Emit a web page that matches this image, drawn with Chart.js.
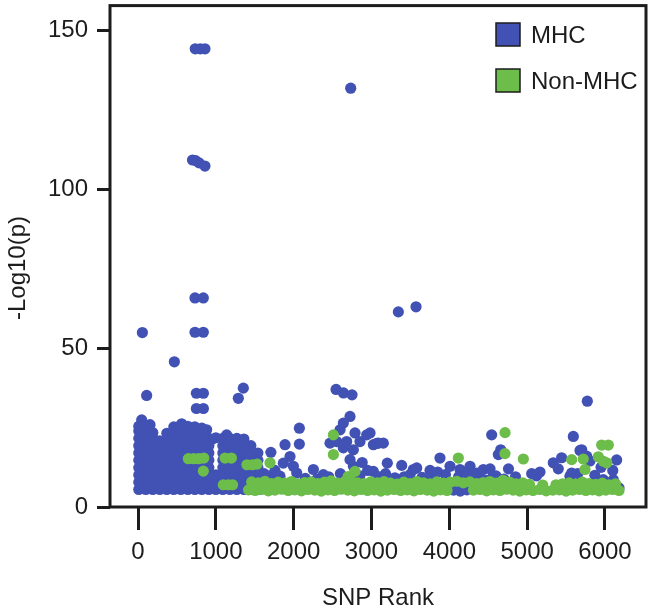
<!DOCTYPE html>
<html>
<head>
<meta charset="utf-8">
<script src="https://cdn.jsdelivr.net/npm/chart.js@4.4.1/dist/chart.umd.min.js"></script>
<style>
  html, body { margin: 0; padding: 0; background: #fff; }
</style>
</head>
<body>
<canvas id="snpChart" width="652" height="614"></canvas>
<script>
// SNP rank vs -log10(p), MHC against non-MHC SNPs
const xTickValues = [0, 1000, 2000, 3000, 4000, 5000, 6000];
const yTickValues = [0, 50, 100, 150];
const xTitle = 'SNP Rank';
const yTitle = '-Log10(p)';

// MHC - the strong hits standing above the mass
const mhcTopHits = [
  [735,144.2],[800,144.2],[860,144.2],
  [2733,131.8],
  [700,109.2],[740,109.0],[785,108.3],[860,107.3],
  [732,65.8],[839,65.8],
  [56,54.9],[732,55.0],[839,55.0],
  [467,45.7],
  [3345,61.4],[3572,63.0],
  [750,35.8],[840,35.8],[750,31.0],[840,31.0],
  [111,35.1],[1289,34.2],[1353,37.4],
  [2545,37.0],[2640,35.9],[2750,35.3],
  [5773,33.3],
  [47,27.4],[154,25.9],[561,26.2],[882,24.3],[946,21.2],[1139,22.7]
];

// MHC - dense block for the first ~1500 ranks
const mhcDenseBlock = [
  [10,5.5],[10,7.8],[10,10.1],[10,12.4],[10,14.7],[10,17.0],[10,19.3],[10,21.6],[10,23.9],[10,25.4],
  [100,5.5],[100,7.8],[100,10.1],[100,12.4],[100,14.7],[100,17.0],[100,19.3],[100,21.6],[100,23.9],[100,25.0],
  [190,5.5],[190,7.8],[190,10.1],[190,12.4],[190,14.7],[190,17.0],[190,19.3],[190,21.6],[190,23.4],
  [280,5.5],[280,7.8],[280,10.1],[280,12.4],[280,14.7],[280,17.0],[280,19.3],[280,20.8],
  [370,5.5],[370,7.8],[370,10.1],[370,12.4],[370,14.7],[370,17.0],[370,19.3],[370,21.6],[370,23.2],
  [460,5.5],[460,7.8],[460,10.1],[460,12.4],[460,14.7],[460,17.0],[460,19.3],[460,21.6],[460,23.9],[460,25.2],
  [550,5.5],[550,7.8],[550,10.1],[550,12.4],[550,14.7],[550,17.0],[550,19.3],[550,21.6],[550,23.9],[550,25.6],
  [640,5.5],[640,7.8],[640,10.1],[640,12.4],[640,14.7],[640,17.0],[640,19.3],[640,21.6],[640,23.9],[640,25.4],
  [730,5.5],[730,7.8],[730,10.1],[730,12.4],[730,14.7],[730,17.0],[730,19.3],[730,21.6],[730,23.9],[730,25.2],
  [820,5.5],[820,7.8],[820,10.1],[820,12.4],[820,14.7],[820,17.0],[820,19.3],[820,21.6],[820,23.9],[820,24.8],
  [910,5.5],[910,7.8],[910,10.1],[910,12.4],[910,14.7],[910,17.0],[910,19.3],[910,21.6],
  [1000,5.5],[1000,7.8],[1000,10.1],[1000,21.8],
  [1090,5.5],[1090,7.8],[1090,10.1],[1090,12.4],[1090,14.7],[1090,17.0],[1090,19.3],[1090,21.6],
  [1180,5.5],[1180,7.8],[1180,10.1],[1180,12.4],[1180,14.7],[1180,17.0],[1180,19.3],[1180,21.6],
  [1270,5.5],[1270,7.8],[1270,10.1],[1270,12.4],[1270,14.7],[1270,17.0],[1270,19.3],[1270,21.6],
  [1360,5.5],[1360,7.8],[1360,10.1],[1360,12.4],[1360,14.7],[1360,17.0],[1360,19.3],[1360,21.4],
  [1450,5.5],[1450,7.8],[1450,10.1],[1450,12.4],[1450,14.7],[1450,17.0],[1450,19.3],
  [1540,5.5],[1540,7.8],[1540,10.1],[1540,12.4],[1540,14.7],[1540,17.0]
];

// MHC - scattered points after rank ~1600
const mhcTail = [
  [1620,10.5],[1700,9.8],[1707,17.2],[1760,11.5],[1824,9.7],[1867,13.8],[1889,19.6],[1953,15.9],
  [1996,12.8],[2039,10.7],[2073,19.8],[2073,24.8],[2150,9.0],[2253,11.8],[2300,8.8],[2381,10.2],[2450,9.5],
  [2467,20.1],[2553,20.6],[2596,24.3],[2638,26.4],[2638,18.6],[2681,20.6],[2724,28.5],[2724,14.9],[2767,18.0],
  [2767,12.8],[2788,23.3],[2852,20.6],[2938,22.7],[3024,19.6],[2880,14.0],[2950,11.5],[3067,20.0],
  [2600,10.5],[2850,9.8],[3100,9.5],[3180,10.5],
  [2981,23.3],[3088,20.1],[3152,20.1],[3024,11.2],[3203,13.8],[3388,13.1],[3495,10.2],[3537,11.8],
  [3581,12.3],[3752,11.5],[3880,15.4],[3300,9.2],[3650,9.3],[3950,10.2],[3420,9.5],[3780,9.2],[3850,11.0],
  [4009,12.8],[4055,5.3],[4140,5.0],[4137,11.8],[4225,5.4],[4244,10.7],[4266,12.8],[4352,10.7],
  [4120,9.5],[4180,8.5],[4300,8.0],[4400,9.0],[4480,8.4],[4560,9.5],[4700,8.8],
  [4437,11.8],[4523,12.0],[4544,22.7],[4630,16.5],[4600,9.8],
  [4660,18.0],[4760,12.0],[4850,9.5],[5058,10.5],[5120,9.8],[5165,11.0],[5336,13.9],[5400,12.0],
  [5443,15.5],[5550,9.7],[5572,10.7],[5593,22.2],[5650,10.5],[5679,17.8],[5701,18.0],[5765,16.0],[5807,14.5],
  [5870,10.0],[5950,12.5],[5979,8.6],[6050,6.5],[6107,8.6],[6150,14.8],[6180,6.0],[6100,11.5]
];

// Non-MHC - points above the low band
const nonMhcHigh = [
  [647,15.2],[715,15.2],[780,15.2],[845,15.4],[839,11.3],
  [1118,15.4],[1200,15.4],[1096,7.0],[1160,7.0],[1215,7.0],
  [1400,13.3],[1470,13.3],[1530,13.5],[1696,13.9],
  [2510,22.7],[2510,16.5],[2700,9.6],[2788,11.2],
  [4116,15.4],[4715,16.8],[4716,23.4],[4951,15.1],
  [5572,14.9],[5721,15.1],[5743,11.8],[5914,15.8],[5979,14.4],[6022,13.9],[5957,19.5],[6043,19.5]
];

// Non-MHC - low band, lower edge
const nonMhcBandLow = [
  [1420,5.4],[1505,5.2],[1590,5.5],[1675,5.1],[1760,5.3],[1845,5.6],[1930,5.2],[2015,5.4],[2100,5.1],
  [2185,5.5],[2270,5.3],[2355,5.0],[2440,5.4],[2525,5.2],[2610,5.6],[2695,5.3],[2780,5.1],[2865,5.5],
  [2950,5.2],[3035,5.4],[3120,5.0],[3205,5.3],[3290,5.5],[3375,5.2],[3460,5.4],[3545,5.1],[3630,5.5],
  [3715,5.3],[3800,5.0],[3885,5.4],[3970,5.2],
  [4310,5.3],[4395,5.5],[4480,5.1],[4565,5.4],[4650,5.2],[4735,5.6],[4820,5.3],[4905,5.0],[4990,5.4],
  [5075,5.2],[5160,5.5],[5245,5.1],[5330,5.3],[5415,5.4],[5500,5.0],[5585,5.3],[5670,5.5],[5755,5.2],
  [5840,5.4],[5925,5.1],[6010,5.3],[6095,5.5],[6180,5.2]
];

// Non-MHC - low band, upper edge
const nonMhcBandHigh = [
  [1460,7.9],[1545,7.6],[1630,8.1],[1715,7.4],[1800,7.8],[1885,7.5],[1970,8.0],[2055,7.3],[2140,7.7],
  [2225,7.9],[2310,7.4],[2395,7.8],[2480,8.2],[2565,7.5],[2650,7.9],[2735,8.3],[2820,7.6],[2905,7.4],
  [2990,7.9],[3075,7.6],[3160,8.0],[3245,7.5],[3330,7.2],[3415,7.8],[3500,7.4],[3585,8.0],[3670,7.6],
  [3755,7.3],[3840,7.9],[3925,7.5],[4010,7.8],[4095,8.1],[4180,7.6],[4265,7.9],[4350,7.4],[4435,7.7],
  [4520,8.0],[4605,7.5],[4690,8.4],[4775,7.8],[4860,7.3],[4945,7.6],[5030,7.1],[5200,6.9],[5370,7.0],
  [5455,7.3],[5540,7.6],[5625,7.2],[5710,7.8],[5795,7.4],[5880,7.1],[5965,7.5],[6050,7.0],[6135,7.3]
];

const blue = '#4152b4';
const green = '#6cbd4a';
const ink = '#1c1c1c';
const fontFamily = '"Liberation Sans", Arial, Helvetica, sans-serif';

const toXY = pts => pts.map(p => ({ x: p[0], y: p[1] }));

// box around the plot area
const framePlugin = {
  id: 'frame',
  afterDraw(chart) {
    const { ctx, chartArea: a } = chart;
    ctx.save();
    ctx.strokeStyle = ink;
    ctx.lineWidth = 3;
    ctx.strokeRect(a.left, a.top, a.right - a.left, a.bottom - a.top);
    ctx.restore();
  }
};

// legend inside the top-right corner + rotated y title
const legendPlugin = {
  id: 'insideLegend',
  afterDraw(chart) {
    const ctx = chart.ctx;
    ctx.save();
    ctx.font = '24px ' + fontFamily;
    ctx.textBaseline = 'middle';
    chart.data.datasets.forEach((ds, i) => {
      const y = 23 + i * 46;
      ctx.fillStyle = ds.backgroundColor;
      ctx.fillRect(496, y, 24, 23);
      ctx.strokeStyle = ink;
      ctx.lineWidth = 1.5;
      ctx.strokeRect(496, y, 24, 23);
      ctx.fillStyle = ink;
      ctx.textAlign = 'left';
      ctx.fillText(ds.label, 531, y + 13);
    });
    ctx.translate(18, 268);
    ctx.rotate(-Math.PI / 2);
    ctx.textAlign = 'center';
    ctx.fillText(yTitle, 0, 0);
    ctx.restore();
  }
};

// fixed axis boxes, no extra label padding around the plot
const fixX = s => { s.height = 107; s.paddingLeft = 0; s.paddingRight = 0; };
const fixY = s => { s.width = 110; s.paddingTop = 0; s.paddingBottom = 0; };

const ctx = document.getElementById('snpChart').getContext('2d');
new Chart(ctx, {
  type: 'scatter',
  data: {
    datasets: [
      {
        label: 'MHC',
        data: toXY(mhcTopHits.concat(mhcDenseBlock, mhcTail)),
        backgroundColor: blue,
        borderWidth: 0,
        pointRadius: 5.6,
        order: 2
      },
      {
        label: 'Non-MHC',
        data: toXY(nonMhcHigh.concat(nonMhcBandLow, nonMhcBandHigh)),
        backgroundColor: green,
        borderWidth: 0,
        pointRadius: 5.6,
        order: 1
      }
    ]
  },
  options: {
    responsive: false,
    animation: false,
    devicePixelRatio: 1,
    layout: { padding: { top: 4, right: 6, left: 0, bottom: 0 } },
    plugins: { legend: { display: false }, tooltip: { enabled: false } },
    scales: {
      x: {
        type: 'linear',
        min: -360,
        max: 6527,
        afterFit: fixX,
        afterBuildTicks: s => { s.ticks = xTickValues.map(v => ({ value: v })); },
        grid: { drawOnChartArea: false, drawTicks: true, tickLength: 23, tickWidth: 3, tickColor: ink },
        border: { display: false },
        ticks: { color: ink, font: { family: fontFamily, size: 24 }, padding: 8, maxRotation: 0, autoSkip: false, callback: v => String(v) },
        title: { display: true, text: xTitle, color: ink, font: { family: fontFamily, size: 24 }, padding: { top: 0, bottom: 1 } }
      },
      y: {
        type: 'linear',
        min: 0,
        max: 157.8,
        afterFit: fixY,
        afterBuildTicks: s => { s.ticks = yTickValues.map(v => ({ value: v })); },
        grid: { drawOnChartArea: false, drawTicks: true, tickLength: 13, tickWidth: 3, tickColor: ink },
        border: { display: false },
        ticks: { color: ink, font: { family: fontFamily, size: 24 }, padding: 9, callback: v => String(v) }
      }
    }
  },
  plugins: [framePlugin, legendPlugin]
});
</script>
</body>
</html>
